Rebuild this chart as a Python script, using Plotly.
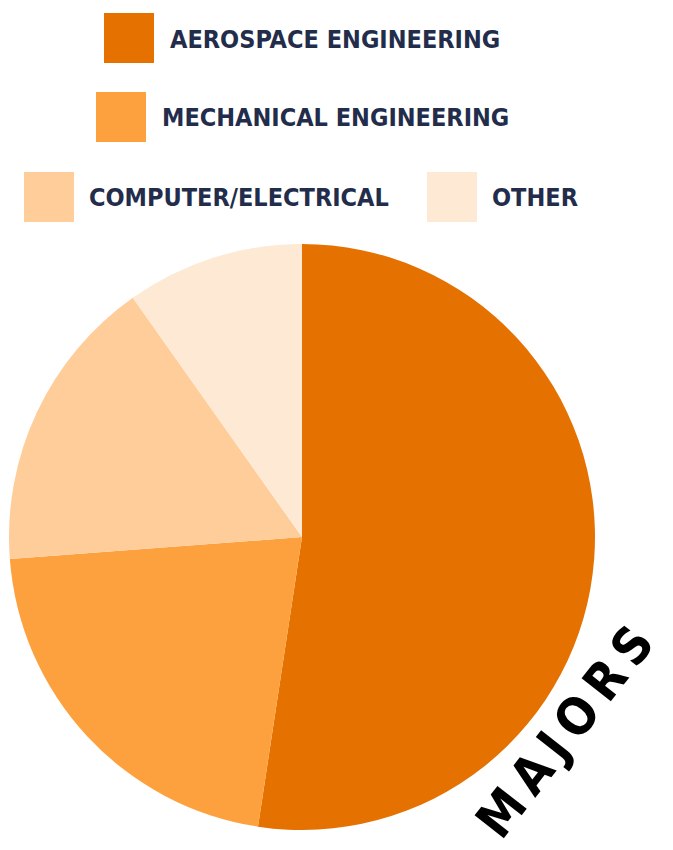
import plotly.graph_objects as go

W, H = 673, 850

labels = ["AEROSPACE ENGINEERING", "MECHANICAL ENGINEERING", "COMPUTER/ELECTRICAL", "OTHER"]
values = [52.4, 21.4, 16.4, 9.8]
colors = ["#E57200", "#FDA13F", "#FECD9A", "#FEEAD4"]
title_text = "MAJORS"

def px(x):
    return x / W

def py(y):
    return 1 - y / H

fig = go.Figure()
fig.add_trace(go.Pie(
    labels=labels, values=values, sort=False, direction="clockwise", rotation=0,
    marker=dict(colors=colors, line=dict(width=0)),
    textinfo="none", hoverinfo="label+percent", showlegend=False,
    domain=dict(x=[px(9), px(595)], y=[py(830), py(244)]),
))

FONT = "DejaVu Sans Condensed"
NAVY = "#232D4B"

# custom legend: (square left, square top, text left)
legend_pos = [(104, 13, 168), (96, 92, 160), (24, 172, 87), (427, 172, 490)]
shapes = []
annotations = []
for lab, col, (sx, sy, tx) in zip(labels, colors, legend_pos):
    shapes.append(dict(type="rect", xref="paper", yref="paper",
                       x0=px(sx), x1=px(sx + 50), y0=py(sy + 50), y1=py(sy),
                       fillcolor=col, line=dict(width=0), layer="above"))
    annotations.append(dict(text=lab, xref="paper", yref="paper",
                            x=px(tx), y=py(sy + 26), xanchor="left", yanchor="middle",
                            showarrow=False,
                            font=dict(family=FONT, size=25, color=NAVY, weight="bold")))

spaced = "\u2009".join(title_text)
annotations.append(dict(text=spaced, xref="paper", yref="paper",
                        x=px(564), y=py(732), xanchor="center", yanchor="middle",
                        textangle=-52, showarrow=False,
                        font=dict(family=FONT, size=51, color="#000000", weight="bold")))

fig.update_layout(
    width=W, height=H, margin=dict(l=0, r=0, t=0, b=0),
    paper_bgcolor="white", plot_bgcolor="white",
    shapes=shapes, annotations=annotations,
)

fig.write_html("out.html")
